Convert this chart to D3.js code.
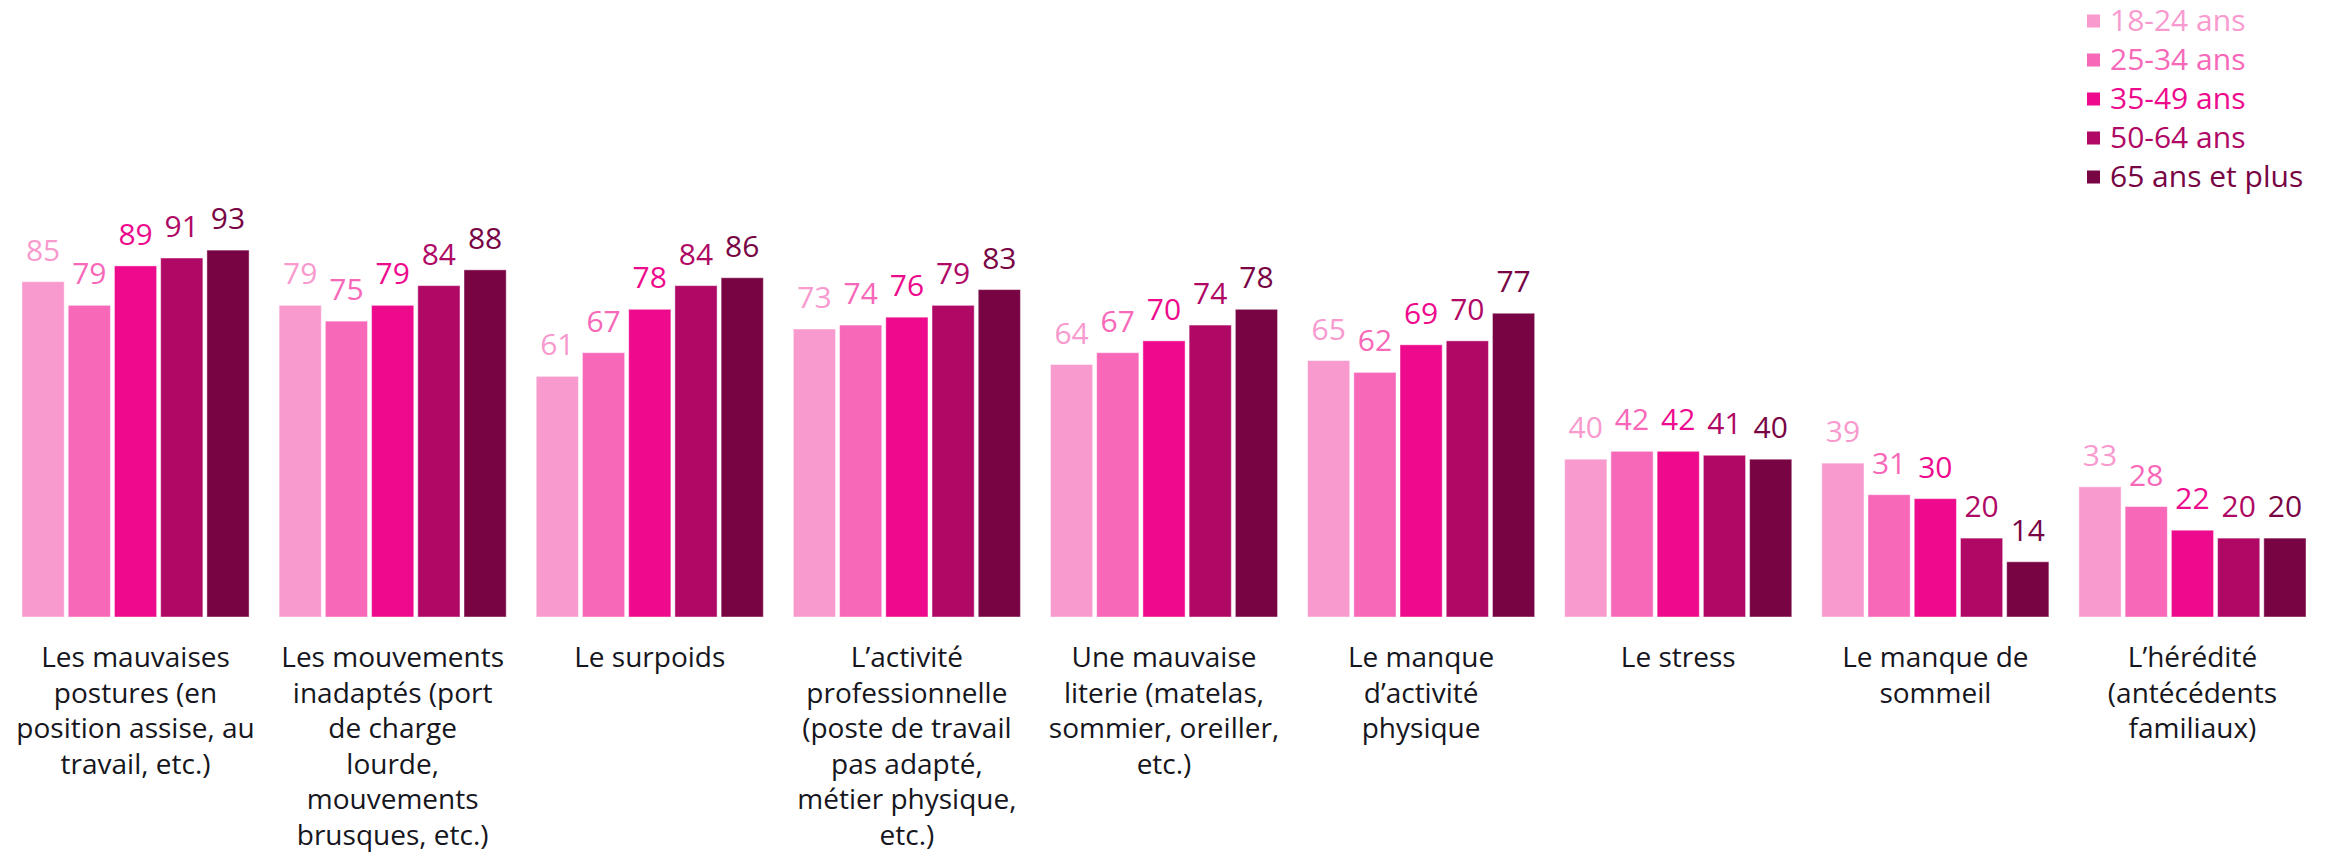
<!DOCTYPE html>
<html>
<head>
<meta charset="utf-8">
<script src="https://cdnjs.cloudflare.com/ajax/libs/d3/7.8.5/d3.min.js"></script>
<style>
  body { margin: 0; background: #fff; }
  text { font-family: "Open Sans", "DejaVu Sans", sans-serif; }
</style>
</head>
<body>
<div id="chart"></div>
<script>
// categories (line breaks as in the original)
var categories = [
  "Les mauvaises\npostures (en\nposition assise, au\ntravail, etc.)",
  "Les mouvements\ninadaptés (port\nde charge\nlourde,\nmouvements\nbrusques, etc.)",
  "Le surpoids",
  "L’activité\nprofessionnelle\n(poste de travail\npas adapté,\nmétier physique,\netc.)",
  "Une mauvaise\nliterie (matelas,\nsommier, oreiller,\netc.)",
  "Le manque\nd’activité\nphysique",
  "Le stress",
  "Le manque de\nsommeil",
  "L’hérédité\n(antécédents\nfamiliaux)"
];

var seriesNames = ["18-24 ans", "25-34 ans", "35-49 ans", "50-64 ans", "65 ans et plus"];
var colors = ["#f99acf", "#f868b9", "#ee0a8d", "#af0865", "#780444"];

var v18_24 = [85, 79, 61, 73, 64, 65, 40, 39, 33];
var v25_34 = [79, 75, 67, 74, 67, 62, 42, 31, 28];
var v35_49 = [89, 79, 78, 76, 70, 69, 42, 30, 22];
var v50_64 = [91, 84, 84, 79, 74, 70, 41, 20, 20];
var v65plus = [93, 88, 86, 83, 78, 77, 40, 14, 20];

var seriesValues = [v18_24, v25_34, v35_49, v50_64, v65plus];

var width = 2344, height = 853;

var svg = d3.select("#chart").append("svg")
    .attr("width", width)
    .attr("height", height);

// scales
var x0 = d3.scaleBand()
    .domain(d3.range(categories.length))
    .range([7, 2321])
    .paddingInner(0.1167)
    .paddingOuter(0.0583);

var x1 = d3.scaleBand()
    .domain(d3.range(seriesNames.length))
    .range([0, x0.bandwidth()])
    .paddingInner(0.087);

var y = d3.scaleLinear().domain([0, 100]).range([617, 222.5]);

// bars
var groups = svg.selectAll(".group")
    .data(categories)
  .enter().append("g")
    .attr("class", "group")
    .attr("transform", function(d, i) { return "translate(" + x0(i) + ",0)"; });

groups.selectAll("rect")
    .data(function(d, i) { return seriesValues.map(function(s, j) { return {s: j, v: s[i]}; }); })
  .enter().append("rect")
    .attr("x", function(d) { return x1(d.s); })
    .attr("y", function(d) { return y(d.v); })
    .attr("width", x1.bandwidth())
    .attr("height", function(d) { return y(0) - y(d.v); })
    .attr("fill", function(d) { return colors[d.s]; })
    .attr("stroke", "#fff")
    .attr("stroke-opacity", 0.45)
    .attr("stroke-width", 1);

// value labels
groups.selectAll(".val")
    .data(function(d, i) { return seriesValues.map(function(s, j) { return {s: j, v: s[i]}; }); })
  .enter().append("text")
    .attr("class", "val")
    .attr("x", function(d) { return x1(d.s) + x1.bandwidth() / 2; })
    .attr("y", function(d) { return y(d.v) - 21; })
    .attr("text-anchor", "middle")
    .attr("font-size", 30)
    .attr("fill", function(d) { return colors[d.s]; })
    .text(function(d) { return d.v; });

// category labels
svg.selectAll(".cat")
    .data(categories)
  .enter().append("text")
    .attr("class", "cat")
    .attr("text-anchor", "middle")
    .attr("font-size", 28)
    .attr("fill", "#161620")
    .each(function(d, i) {
      var t = d3.select(this);
      d.split("\n").forEach(function(line, k) {
        t.append("tspan")
          .attr("x", x0(i) + x0.bandwidth() / 2)
          .attr("y", 667 + k * 35.5)
          .text(line);
      });
    });

// legend
var legend = svg.selectAll(".legend")
    .data(seriesNames)
  .enter().append("g")
    .attr("class", "legend")
    .attr("transform", function(d, i) { return "translate(2087," + (21 + i * 39) + ")"; });

legend.append("rect")
    .attr("x", 0)
    .attr("y", -6.5)
    .attr("width", 13)
    .attr("height", 13)
    .attr("fill", function(d, i) { return colors[i]; });

legend.append("text")
    .attr("x", 23)
    .attr("y", 10)
    .attr("font-size", 30)
    .attr("fill", function(d, i) { return colors[i]; })
    .text(function(d) { return d; });
</script>
</body>
</html>
